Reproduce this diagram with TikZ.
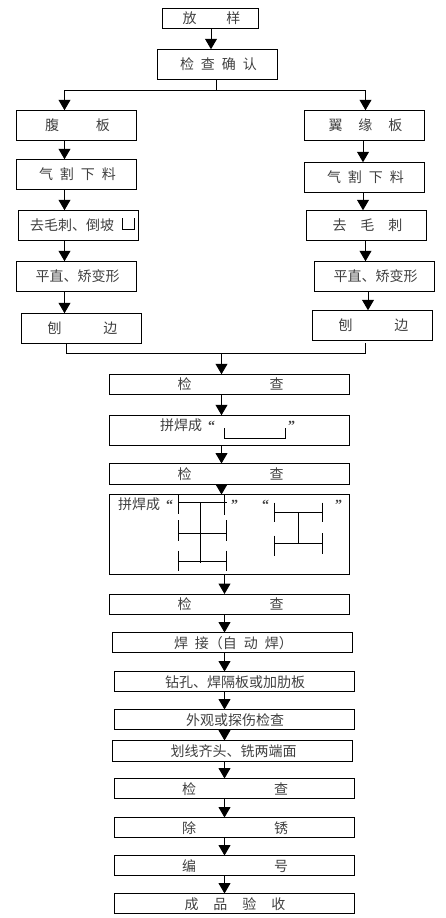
\documentclass[tikz,border=0pt]{standalone}
\usepackage{fontspec}
\setmainfont{Noto Sans CJK SC}
\newfontfamily\quotefont{Liberation Serif}
\usepackage{tikz}
\usetikzlibrary{arrows.meta}
\newcommand{\qL}{{\quotefont\bfseries “}}
\newcommand{\qR}{{\quotefont\bfseries ”}}
\tikzset{
  stepbox/.style={draw, line width=1pt, inner sep=0pt, outer sep=0pt, text=black!75, font=\fontsize{14pt}{16pt}\selectfont, text height=12.5pt, text depth=1.5pt, execute at begin node=\hspace*{2pt}},
  sidebox/.style={stepbox, minimum width=120pt, minimum height=30pt},
  widebox/.style={stepbox, minimum width=240pt, minimum height=20pt},
  flow/.style={line width=1pt, -{Triangle[width=12pt,length=10.5pt]}},
  plainline/.style={line width=1pt},
  freetext/.style={inner sep=0pt, anchor=west, text=black!75, font=\fontsize{14pt}{16pt}\selectfont}
}
\begin{document}
\begin{tikzpicture}[x=1pt, y=-1pt]
    \useasboundingbox (0,0) rectangle (445,918);

    % Top boxes
    \node[stepbox, minimum width=96pt, minimum height=19.5pt] (fangyang) at (210.5,18.25) {放\hspace*{30pt}样};
    \node[sidebox] (jiancha) at (217.5,64.25) {检\hspace*{7pt}查\hspace*{7pt}确\hspace*{7pt}认};

    % Left column
    \node[sidebox] (fuban) at (76.5,125.25) {腹\hspace*{37pt}板};
    \node[sidebox] (qigeL) at (76.5,174.25) {气\hspace*{7pt}割\hspace*{7pt}下\hspace*{7pt}料};
    \node[sidebox] (maociL) at (78.5,225.25) {去毛刺、倒坡\hspace*{15pt}};
    \node[sidebox] (pingL) at (76.5,276.25) {平直、矫变形};
    \node[sidebox] (bianL) at (81.5,328.25) {刨\hspace*{42pt}边};

    % Right column
    \node[sidebox] (yiyuan) at (364.5,125.25) {翼\hspace*{16pt}缘\hspace*{16pt}板};
    \node[sidebox] (qigeR) at (364.5,177.25) {气\hspace*{7pt}割\hspace*{7pt}下\hspace*{7pt}料};
    \node[sidebox] (maociR) at (366.5,225.25) {去\hspace*{14pt}毛\hspace*{14pt}刺};
    \node[sidebox] (pingR) at (374.5,276.25) {平直、矫变形};
    \node[sidebox] (bianR) at (372.5,325.25) {刨\hspace*{42pt}边};

    % Middle column
    \node[widebox] (check1) at (229.5,384.25) {检\hspace*{78pt}查};
    \node[widebox, minimum height=30pt] (weld1) at (229.5,430.25) {};
    \node[widebox, minimum height=21pt] (check2) at (229.5,474) {检\hspace*{78pt}查};
    \node[widebox, minimum height=80pt] (weld2) at (229.5,534.5) {};
    \node[widebox] (check3) at (229.5,604) {检\hspace*{78pt}查};

    % Lower column
    \node[widebox] (zidong) at (232.5,642.5) {焊\hspace*{7pt}接（自\hspace*{7pt}动\hspace*{7pt}焊）};
    \node[widebox] (zuankong) at (234,681.5) {钻孔、焊隔板或加肋板};
    \node[widebox] (waiguan) at (234,719.5) {外观或探伤检查};
    \node[widebox, minimum height=21pt] (huaxian) at (232.5,751) {划线齐头、铣两端面};
    \node[widebox] (check4) at (234,788.5) {检\hspace*{78pt}查};
    \node[widebox] (chuxiu) at (234,827.5) {除\hspace*{78pt}锈};
    \node[widebox] (bianhao) at (234,865.5) {编\hspace*{78pt}号};
    \node[widebox] (chengpin) at (234,903.5) {成\hspace*{15pt}品\hspace*{15pt}验\hspace*{15pt}收};

    % Texts in the two welding boxes
    \node[freetext] (weld1text) at (160,425.5) {拼焊成\hspace*{6pt}\qL\hspace*{73pt}\qR};
    \node[freetext] (weld2text) at (118,504.5) {拼焊成\hspace*{6pt}\qL\hspace*{58pt}\qR\hspace*{24pt}\qL\hspace*{66pt}\qR};

    % Connector axes
    \coordinate (axisTop) at (211,0);
    \coordinate (axisL) at (64.5,0);
    \coordinate (axisR) at (363,0);
    \coordinate (axisM) at (221.5,0);
    \coordinate (axisB) at (224.5,0);
    \coordinate (forkM) at (216,90);
    \coordinate (forkL) at (64.5,90);
    \coordinate (forkR) at (365.5,90);
    \coordinate (joinL) at (66.5,353.5);
    \coordinate (joinR) at (365.5,353.5);
    \coordinate (joinM) at (221.5,353.5);
    \coordinate (joinStart) at (365.5,343);

    % Top and fork
    \draw[flow] (fangyang.south -| axisTop) -- (jiancha.north -| axisTop);
    \draw[plainline] (jiancha.south -| forkM) -- (forkM);
    \draw[plainline] (forkL) -- (forkR);
    \draw[flow] (forkL) -- (fuban.north -| forkL);
    \draw[flow] (forkR) -- (yiyuan.north -| forkR);

    % Left arrows
    \draw[flow] (fuban.south -| axisL) -- (qigeL.north -| axisL);
    \draw[flow] (qigeL.south -| axisL) -- (maociL.north -| axisL);
    \draw[flow] (maociL.south -| axisL) -- (pingL.north -| axisL);
    \draw[flow] (pingL.south -| axisL) -- (bianL.north -| axisL);

    % Right arrows
    \draw[flow] (yiyuan.south -| axisR) -- (qigeR.north -| axisR);
    \draw[flow] (qigeR.south -| axisR) -- (maociR.north -| axisR);
    \draw[flow] (maociR.south -| joinR) -- (pingR.north -| joinR);
    \draw[flow] ([xshift=-6.5pt]pingR.south) -- ([xshift=-4.5pt]bianR.north);

    % Join
    \draw[plainline] (bianL.south -| joinL) -- (joinL) -- (joinR) -- (joinStart);
    \draw[flow] (joinM) -- (check1.north -| joinM);

    % Middle arrows
    \draw[flow] (check1.south -| axisM) -- (weld1.north -| axisM);
    \draw[flow] (weld1.south -| axisM) -- (check2.north -| axisM);
    \draw[flow] (check2.south -| axisM) -- (weld2.north -| axisM);
    \draw[flow] (weld2.south -| axisB) -- (check3.north -| axisB);

    % Lower arrows
    \draw[flow] (check3.south -| axisB) -- (zidong.north -| axisB);
    \draw[flow] (zidong.south -| axisB) -- (zuankong.north -| axisB);
    \draw[flow] (zuankong.south -| axisB) -- (waiguan.north -| axisB);
    \draw[flow] (waiguan.south -| axisB) -- (huaxian.north -| axisB);
    \draw[flow] (huaxian.south -| axisB) -- (check4.north -| axisB);
    \draw[flow] (check4.south -| axisB) -- (chuxiu.north -| axisB);
    \draw[flow] (chuxiu.south -| axisB) -- (bianhao.north -| axisB);
    \draw[flow] (bianhao.south -| axisB) -- (chengpin.north -| axisB);

    % Small groove marks
    \draw[plainline] (122.5,218) -- (122.5,229) -- (134.5,229) -- (134.5,218);
    \draw[plainline] (224.5,428) -- (224.5,438.5) -- (285.5,438.5) -- (285.5,428);

    % Section marks, upper shape
    \draw[plainline] (178.5,495) -- (178.5,514);
    \draw[plainline] (224.5,495) -- (224.5,514.5);
    \draw[plainline] (178.5,502.5) -- (226.5,502.5);
    \draw[plainline] (200.5,502.5) -- (200.5,562.5);
    \draw[plainline] (178.5,520) -- (178.5,540.5);
    \draw[plainline] (226.5,520) -- (226.5,540.5);
    \draw[plainline] (178.5,533.5) -- (226.5,533.5);
    \draw[plainline] (178.5,550.5) -- (178.5,570.5);
    \draw[plainline] (226.5,550.5) -- (226.5,570.5);
    \draw[plainline] (178.5,561.5) -- (226.5,561.5);

    % Section marks, second shape
    \draw[plainline] (274.5,502.5) -- (274.5,522);
    \draw[plainline] (322.5,502.5) -- (322.5,522);
    \draw[plainline] (274.5,512.5) -- (322.5,512.5);
    \draw[plainline] (298.5,512.5) -- (298.5,543.5);
    \draw[plainline] (274.5,535.5) -- (274.5,555.5);
    \draw[plainline] (322.5,533) -- (322.5,553.5);
    \draw[plainline] (274.5,543.5) -- (322.5,543.5);
\end{tikzpicture}
\end{document}
